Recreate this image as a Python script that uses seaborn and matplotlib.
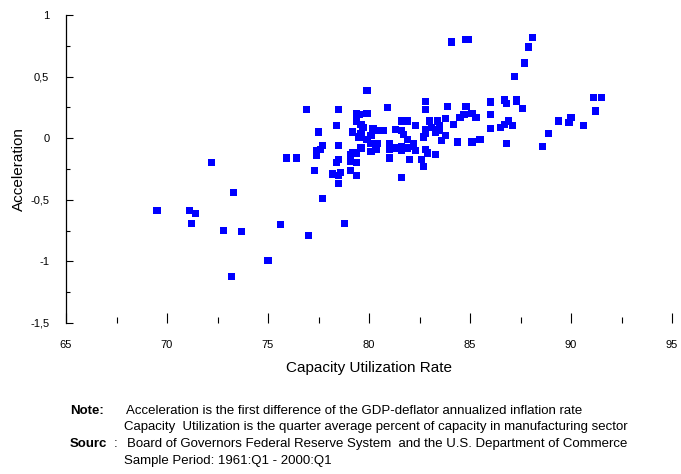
import matplotlib
matplotlib.use("Agg")
import matplotlib.pyplot as plt
import seaborn as sns
import pandas as pd
from matplotlib.ticker import MultipleLocator, FuncFormatter

# capacity utilization rate (x) and acceleration (y)
capacity = [
    69.5, 71.1, 71.4, 71.2, 72.2, 72.8, 73.2, 73.3, 73.7, 75.0,
    75.6, 75.9, 76.4, 76.9, 77.0, 77.3, 77.4, 77.4, 77.5, 77.6,
    77.7, 77.7, 78.2, 78.4, 78.4, 78.5, 78.5, 78.5, 78.5, 78.5,
    78.6, 78.8, 79.1, 79.1, 79.1, 79.2, 79.2, 79.4, 79.4, 79.4,
    79.4, 79.4, 79.5, 79.5, 79.6, 79.6, 79.6, 79.7, 79.9, 79.9,
    79.9, 80.1, 80.1, 80.1, 80.2, 80.35, 80.4, 80.4, 80.7, 80.9,
    81.0, 81.0, 81.0, 81.3, 81.3, 81.6, 81.6, 81.7, 81.6, 81.6,
    81.6, 81.9, 81.9, 81.9, 82.0, 82.2, 82.2, 82.3, 82.3, 82.6,
    82.7, 82.7, 82.8, 82.8, 82.8, 82.8, 82.8, 82.9, 83.0, 83.1,
    83.3, 83.3, 83.4, 83.4, 83.5, 83.5, 83.6, 83.8, 83.8, 83.9,
    84.1, 84.2, 84.4, 84.5, 84.7, 84.8, 84.8, 84.9, 85.1, 85.1,
    85.3, 85.5, 86.0, 86.0, 86.0, 86.0, 86.5, 86.7, 86.7, 86.8,
    86.8, 86.9, 87.1, 87.2, 87.3, 87.3, 87.6, 87.7, 87.9, 88.1,
    88.6, 88.9, 89.4, 89.9, 90.0, 90.6, 91.1, 91.2, 91.5,
]
acceleration = [
    -0.59, -0.59, -0.61, -0.69, -0.20, -0.75, -1.12, -0.44, -0.76, -0.99,
    -0.70, -0.16, -0.16, 0.23, -0.79, -0.26, -0.10, -0.14, 0.05, -0.09,
    -0.06, -0.49, -0.29, 0.10, -0.20, 0.23, -0.06, -0.17, -0.30, -0.37,
    -0.28, -0.69, -0.13, -0.19, -0.26, 0.05, -0.12, 0.20, 0.14, -0.12,
    -0.20, -0.30, 0.19, 0.01, 0.11, 0.04, -0.08, 0.09, 0.39, 0.20,
    -0.01, 0.02, -0.04, -0.11, 0.08, -0.09, 0.06, -0.04, 0.06, 0.25,
    -0.04, -0.09, -0.16, 0.07, -0.08, 0.14, 0.06, 0.03, -0.07, -0.10,
    -0.32, 0.14, -0.01, -0.08, -0.17, -0.04, -0.07, 0.10, -0.10, -0.17,
    0.01, -0.23, 0.30, 0.23, 0.07, 0.04, -0.09, -0.12, 0.14, 0.09,
    0.05, -0.13, 0.14, 0.07, 0.10, 0.06, -0.02, 0.16, 0.02, 0.26,
    0.78, 0.11, -0.03, 0.17, 0.19, 0.26, 0.80, 0.80, 0.20, -0.03,
    0.17, -0.01, 0.30, 0.29, 0.19, 0.08, 0.09, 0.31, 0.11, 0.28,
    -0.04, 0.14, 0.10, 0.50, 0.31, 0.30, 0.24, 0.61, 0.74, 0.82,
    -0.07, 0.04, 0.14, 0.13, 0.17, 0.10, 0.33, 0.22, 0.33,
]

note_lines = [
    "Acceleration is the first difference of the GDP-deflator annualized inflation rate",
    "Capacity  Utilization is the quarter average percent of capacity in manufacturing sector",
]
source_lines = [
    "Board of Governors Federal Reserve System  and the U.S. Department of Commerce",
    "Sample Period: 1961:Q1 - 2000:Q1",
]

sns.set_theme(style="white")
plt.rcParams["font.family"] = ["Liberation Sans", "DejaVu Sans"]

W, H = 681, 474
fig = plt.figure(figsize=(W / 100, H / 100), dpi=100)
ax = fig.add_axes([66 / W, 1 - 323 / H, (672 - 66) / W, (323 - 15) / H])

df = pd.DataFrame({"cap": capacity, "acc": acceleration})
sns.scatterplot(data=df, x="cap", y="acc", marker="s", s=27, color="#0000ff",
                edgecolor="none", linewidth=0, ax=ax, zorder=3, clip_on=False)

ax.set_xlim(65, 95)
ax.set_ylim(-1.5, 1)
for side in ["top", "right", "bottom"]:
    ax.spines[side].set_visible(False)
ax.spines["left"].set_color("black")
ax.spines["left"].set_linewidth(0.9)

ax.xaxis.set_major_locator(MultipleLocator(5))
ax.xaxis.set_minor_locator(MultipleLocator(2.5))
ax.yaxis.set_major_locator(MultipleLocator(0.5))
ax.yaxis.set_minor_locator(MultipleLocator(0.25))
ax.yaxis.set_major_formatter(FuncFormatter(lambda v, p: f"{v:g}".replace(".", ",")))

ax.tick_params(which="both", direction="in", color="black", labelcolor="black",
               width=0.8, labelsize=8)
ax.tick_params(axis="x", which="major", bottom=True, length=7, pad=12)
ax.tick_params(axis="x", which="minor", bottom=True, length=4)
ax.tick_params(axis="y", which="major", left=True, length=5, pad=12)
ax.tick_params(axis="y", which="minor", left=True, length=3)

ax.set_xlabel("Capacity Utilization Rate", fontsize=11, color="black")
ax.set_ylabel("Acceleration", fontsize=11, color="black")
ax.xaxis.set_label_coords(0.5, -0.122)
ax.yaxis.set_label_coords(-0.066, 0.5)

fs = 9.5
def put(x, y, s, **kw):
    fig.text(x / W, 1 - y / H, s, fontsize=fs, va="center", ha="left", color="black", **kw)

put(70, 411, "Note:", fontweight="bold")
put(126, 411, note_lines[0])
put(124, 427, note_lines[1])
put(70, 444, "Sourc", fontweight="bold")
put(114, 444, ":")
put(127, 444, source_lines[0])
put(124, 461, source_lines[1])

fig.savefig("out.png", dpi=100)
